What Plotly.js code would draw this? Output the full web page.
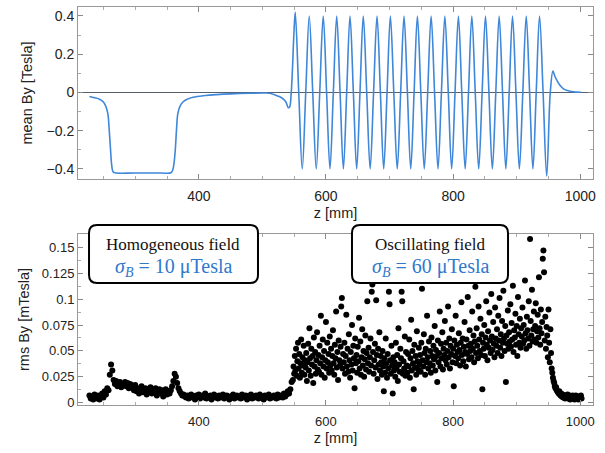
<!DOCTYPE html>
<html>
<head>
<meta charset="utf-8">
<script src="https://cdn.plot.ly/plotly-3.0.1.min.js"></script>
<style>html,body{margin:0;padding:0;background:#fff;}#chart{width:605px;height:453px;}</style>
</head>
<body>
<div id="chart"></div>
<script>
// ---- top panel: mean By [Tesla] along z [mm] ----
const zMean = [228,236,244,250,254,257,259,261,263,265,268,300,340,356,359,361,363,365,367,370,375,380,391,410,428,450,480,506,516,522,528,533,537,541,543,545,547,549.6,
  551.7,557.2,562.7,568.2,573.7,579.2,584.7,590.2,595.7,601.0,606.3,611.6,616.9,622.2,627.4,632.6,637.8,643.1,648.3,653.5,
  658.7,664.1,669.5,674.9,680.3,685.6,690.8,696.1,701.3,706.7,712.1,717.5,722.8,728.1,733.3,738.6,743.8,749.2,754.6,760.0,
  765.4,770.8,776.2,781.6,787.0,792.4,797.7,803.0,808.3,813.6,818.9,824.2,829.4,834.8,840.2,845.6,850.9,856.3,861.7,867.1,
  872.4,877.7,882.9,888.2,893.4,898.8,904.2,909.6,915.0,920.3,925.5,930.7,935.9,941.5,947.2,952.8,957,960,963.3,968,973.7,980,986,993,1001];
const byMean = [-0.021,-0.027,-0.035,-0.05,-0.075,-0.112,-0.19,-0.29,-0.38,-0.414,-0.42,-0.421,-0.421,-0.42,-0.405,-0.37,-0.3,-0.19,-0.11,-0.075,-0.05,-0.038,-0.025,-0.016,-0.011,-0.007,-0.004,-0.003,-0.008,-0.016,-0.024,-0.035,-0.05,-0.08,-0.075,-0.02,0.1,0.31,
  0.42,0,-0.40,0,0.40,0,-0.40,0,0.40,0,-0.40,0,0.40,0,-0.40,0,0.40,0,-0.40,0,
  0.40,0,-0.40,0,0.40,0,-0.40,0,0.40,0,-0.40,0,0.40,0,-0.40,0,0.40,0,-0.40,0,
  0.40,0,-0.40,0,0.40,0,-0.40,0,0.40,0,-0.40,0,0.40,0,-0.40,0,0.40,0,-0.40,0,
  0.40,0,-0.40,0,0.40,0,-0.40,0,0.40,0,-0.40,0,0.40,0,-0.437,0,0.112,0.085,0.063,0.038,0.019,0.01,0.005,0.002,0.001];

// ---- bottom panel: rms By [mTesla], sampled along z [mm] ----
const zHomStart = 228, zHomStep = 2;
const rmsHom = [.007,.004,.006,.003,.008,.005,.004,.007,.003,.006,.009,.005,
  .011,.008,.014,.012,
  .027,.037,.031,
  .022,
  .018,.021,.016,.019,.02,.015,.018,.017,.02,.016,.019,.014,.018,.017,
  .015,.012,.017,.011,.014,.009,.013,.016,.01,.012,.014,.008,.013,.011,.015,.009,.012,.01,.014,.007,.011,.013,.009,.012,.006,.01,.013,.008,.011,.009,.012,
  .016,.021,.028,.025,.019,.014,.011,
  .009,.007,.008,.006,.005,.007,.004,.006,.008,.005,
  .006,.003,.007,.005,.008,.004,.006,.007,.005,.009,
  .004,.006,.005,.007,.003,.006,.008,.005,.006,.004,
  .007,.005,.006,.008,.004,.005,.007,.006,.003,.006,
  .005,.008,.004,.006,.007,.005,.006,.004,.008,.005,
  .006,.007,.003,.005,.006,.008,.004,.006,.005,.007,
  .006,.004,.008,.005,.006,.003,.007,.005,.006,.008,
  .004,.006,.005,.007,.006,.004,.008,.005,.007,.006,
  .005,.009,.006,.008,.011,
  .009,.013,.02];

const zOscStart = 548, zOscStep = 1;
const rmsOsc = [
  .022,.035,.028,.045,.031,.052,.026,.04,.058,.033,.047,.024,.038,.061,.029,.044,.036,.055,.027,.041,
  .034,.048,.021,.039,.057,.031,.072,.043,.026,.052,.037,.045,.019,.063,.035,.049,.028,.041,.068,.032,
  .046,.03,.055,.038,.084,.027,.044,.061,.035,.05,.024,.041,.078,.033,.058,.039,.047,.029,.064,.036,
  .052,.031,.045,.07,.038,.027,.056,.043,.088,.034,.049,.022,.06,.041,.036,.054,.093,.101,.033,.047,
  .039,.058,.028,.045,.085,.035,.052,.03,.066,.041,.024,.049,.037,.075,.031,.055,.043,.014,.062,.038,
  .046,.029,.054,.04,.082,.033,.059,.027,.044,.071,.036,.05,.025,.042,.065,.032,.048,.098,.038,.053,
  .03,.044,.062,.036,.107,.114,.049,.028,.041,.057,.034,.099,.046,.023,.052,.037,.068,.031,.045,.039,
  .027,.05,.035,.011,.043,.029,.062,.038,.024,.047,.033,.107,.095,.041,.028,.055,.036,.009,.044,.031,
  .039,.025,.058,.034,.046,.021,.072,.037,.03,.052,.043,.107,.098,.028,.04,.033,.064,.026,.049,.036,
  .029,.047,.035,.061,.024,.043,.08,.031,.05,.038,.013,.056,.034,.045,.027,.069,.04,.032,.053,.037,
  .046,.03,.058,.11,.041,.035,.066,.048,.027,.052,.039,.084,.044,.033,.059,.038,.05,.029,.063,.045,
  .036,.055,.042,.074,.031,.051,.045,.02,.06,.039,.048,.088,.035,.057,.043,.068,.032,.052,.046,.079,
  .041,.058,.037,.05,.093,.044,.062,.033,.055,.047,.071,.039,.052,.016,.06,.045,.084,.038,.056,.049,
  .043,.067,.051,.036,.058,.097,.046,.062,.04,.054,.078,.049,.035,.061,.047,.102,.055,.042,.07,.05,
  .057,.044,.088,.052,.065,.039,.059,.112,.048,.072,.055,.043,.093,.061,.05,.081,.046,.066,.013,.058,
  .052,.075,.045,.063,.098,.056,.041,.069,.053,.087,.06,.048,.105,.064,.051,.078,.057,.044,.092,.062,
  .055,.071,.048,.084,.06,.101,.053,.066,.045,.079,.058,.108,.062,.05,.074,.02,.065,.057,.089,.052,
  .068,.059,.095,.054,.077,.061,.113,.049,.07,.063,.086,.056,.074,.045,.102,.066,.058,.081,.053,.072,
  .064,.092,.057,.075,.06,.118,.067,.052,.083,.07,.062,.098,.055,.158,.079,.065,.109,.059,.071,.088,
  .061,.074,.096,.058,.069,.085,.063,.121,.072,.056,.09,.067,.078,.139,.147,.126,.06,.083,.052,.073,
  .065,.044,.09,.058,.039,.071,.048,.033];

const zTailStart = 956, zTailStep = 1;
const rmsTail = [.029,.024,.021,.019,.016,.014,.015,.012,.011,.01,
  .009,.011,.008,.007,.009,.006,.008,.005,.007,.006,
  .004,.007,.005,.006,.008,.004,.005,.007,.003,.006,
  .005,.004,.007,.005,.006,.003,.005,.007,.004,.006,
  .005,.003,.006,.004,.005,.007,.004];

const topTicks = [-0.4, -0.2, 0, 0.2, 0.4];
const botTicks = [0, 0.025, 0.05, 0.075, 0.1, 0.125, 0.15];
const zTicks = [400, 600, 800, 1000];

const box1Lines = ['Homogeneous field', '<i>σ</i><sub><i>B</i></sub> = 10 μTesla'];
const box2Lines = ['Oscillating field', '<i>σ</i><sub><i>B</i></sub> = 60 μTesla'];

// ---- traces ----
const dotStyle = {color: '#000', size: 6};
const traces = [
  {x: zMean, y: byMean, xaxis: 'x', yaxis: 'y', type: 'scatter', mode: 'lines',
   line: {color: '#3f87d9', width: 1.6, shape: 'spline', smoothing: 1}, hoverinfo: 'skip'},
  {y: rmsHom, x0: zHomStart, dx: zHomStep, xaxis: 'x2', yaxis: 'y2', type: 'scatter', mode: 'markers', marker: dotStyle},
  {y: rmsOsc, x0: zOscStart, dx: zOscStep, xaxis: 'x2', yaxis: 'y2', type: 'scatter', mode: 'markers', marker: dotStyle},
  {y: rmsTail, x0: zTailStart, dx: zTailStep, xaxis: 'x2', yaxis: 'y2', type: 'scatter', mode: 'markers', marker: dotStyle}
];

const tickFontTop = {family: 'Liberation Sans, Arial, sans-serif', size: 14, color: '#222'};
const tickFontBot = {family: 'Liberation Sans, Arial, sans-serif', size: 13, color: '#222'};
const titleFont = {family: 'Liberation Sans, Arial, sans-serif', size: 14.5, color: '#222'};

function xAxis(anchor, font) {
  return {
    anchor: anchor, domain: [0, 1], range: [210, 1020],
    tickvals: zTicks, ticks: 'inside', ticklen: 5, tickcolor: '#888', tickwidth: 1,
    ticklabelstandoff: 4,
    minor: {dtick: 50, tick0: 0, ticks: 'inside', ticklen: 3, tickcolor: '#aaa', showgrid: false},
    showline: true, linecolor: '#999', linewidth: 1, mirror: 'ticks',
    showgrid: false, zeroline: false, tickfont: font,
    title: {text: 'z [mm]', font: titleFont, standoff: 5},
    automargin: false
  };
}

const layout = {
  width: 605, height: 453,
  margin: {l: 78, r: 12, t: 7, b: 48},
  paper_bgcolor: '#fff', plot_bgcolor: '#fff',
  showlegend: false,
  xaxis: xAxis('y', tickFontTop),
  xaxis2: xAxis('y2', tickFontBot),
  yaxis: {
    domain: [0.568, 1], range: [-0.452, 0.447], anchor: 'x',
    tickvals: topTicks, ticks: 'inside', ticklen: 5, tickcolor: '#888',
    minor: {dtick: 0.1, tick0: 0, ticks: 'inside', ticklen: 3, tickcolor: '#aaa', showgrid: false},
    showline: true, linecolor: '#999', linewidth: 1, mirror: 'ticks',
    showgrid: false, zeroline: true, zerolinecolor: '#556070', zerolinewidth: 1,
    tickfont: tickFontTop,
    title: {text: 'mean By [Tesla]', font: titleFont, standoff: 10},
    automargin: false
  },
  yaxis2: {
    domain: [0, 0.430], range: [-0.0022, 0.163], anchor: 'x2',
    tickvals: botTicks, ticks: 'inside', ticklen: 5, tickcolor: '#888',
    minor: {dtick: 0.0125, tick0: 0, ticks: 'inside', ticklen: 3, tickcolor: '#aaa', showgrid: false},
    showline: true, linecolor: '#999', linewidth: 1, mirror: 'ticks',
    showgrid: false, zeroline: false,
    tickfont: tickFontBot,
    title: {text: 'rms By [mTesla]', font: titleFont, standoff: 8},
    automargin: false
  },
  shapes: [],
  annotations: []
};

function roundBox(x0, y0, x1, y1, rx, ry) {
  return {
    type: 'path', xref: 'paper', yref: 'paper', layer: 'above',
    path: `M ${x0 + rx},${y0} L ${x1 - rx},${y0} Q ${x1},${y0} ${x1},${y0 + ry} L ${x1},${y1 - ry} Q ${x1},${y1} ${x1 - rx},${y1} L ${x0 + rx},${y1} Q ${x0},${y1} ${x0},${y1 - ry} L ${x0},${y0 + ry} Q ${x0},${y0} ${x0 + rx},${y0} Z`,
    line: {color: '#000', width: 2}, fillcolor: '#fff'
  };
}
const rx = 0.0155, ry = 0.0201;
layout.shapes.push(roundBox(0.0214, 0.3065, 0.3495, 0.4523, rx, ry));
layout.shapes.push(roundBox(0.532, 0.3065, 0.835, 0.4523, rx, ry));

function boxText(xc, lines) {
  return [
    {xref: 'paper', yref: 'paper', x: xc, y: 0.4045, text: lines[0], showarrow: false,
     xanchor: 'center', yanchor: 'middle',
     font: {family: 'Liberation Serif, Times New Roman, serif', size: 17, color: '#111'}},
    {xref: 'paper', yref: 'paper', x: xc, y: 0.3467, text: lines[1], showarrow: false,
     xanchor: 'center', yanchor: 'middle',
     font: {family: 'Liberation Serif, Times New Roman, serif', size: 20, color: '#2f78cc'}}
  ];
}
layout.annotations.push(...boxText(0.1854, box1Lines));
layout.annotations.push(...boxText(0.6835, box2Lines));

Plotly.newPlot('chart', traces, layout, {displayModeBar: false, staticPlot: true});
</script>
</body>
</html>
